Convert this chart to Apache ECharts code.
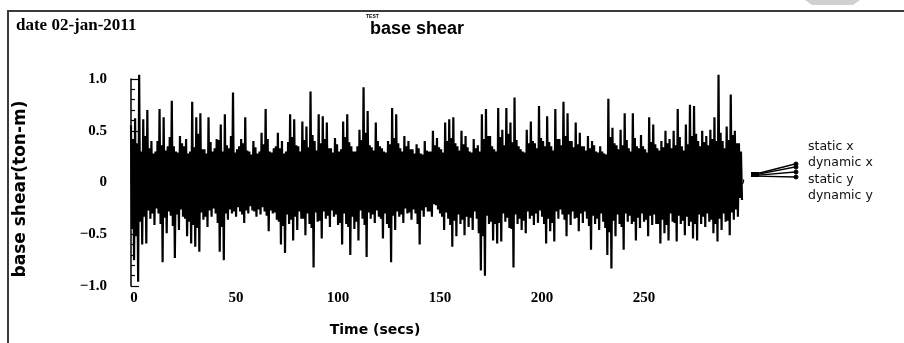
<!DOCTYPE html>
<html>
<head>
<meta charset="utf-8">
<script src="https://cdn.jsdelivr.net/npm/echarts@6/dist/echarts.min.js"></script>
<style>html,body{margin:0;padding:0;background:#fff;}#c{width:904px;height:343px;}</style>
</head>
<body>
<div id="c"></div>
<script>
// Positive peaks, at t = 0, 2, 4, ... 298 s
const upperPeaks = [
  0.55,0.62,1.04,0.61,0.70,0.40,0.30,0.71,0.63,0.35,
  0.79,0.30,0.45,0.35,0.28,0.78,0.63,0.67,0.32,0.63,
  0.30,0.42,0.56,0.66,0.33,0.87,0.32,0.42,0.63,0.30,
  0.40,0.28,0.48,0.71,0.30,0.33,0.48,0.40,0.30,0.66,
  0.61,0.35,0.59,0.54,0.88,0.40,0.66,0.64,0.58,0.33,
  0.43,0.30,0.59,0.66,0.35,0.30,0.51,0.92,0.69,0.34,
  0.58,0.35,0.30,0.40,0.72,0.66,0.33,0.45,0.40,0.32,
  0.37,0.28,0.40,0.30,0.50,0.43,0.32,0.58,0.61,0.63,
  0.35,0.50,0.45,0.30,0.42,0.36,0.66,0.71,0.45,0.32,
  0.72,0.51,0.72,0.58,0.82,0.35,0.30,0.51,0.59,0.38,
  0.74,0.40,0.64,0.35,0.71,0.42,0.78,0.67,0.40,0.58,
  0.48,0.35,0.45,0.40,0.30,0.35,0.28,0.81,0.53,0.36,
  0.51,0.67,0.33,0.67,0.35,0.46,0.32,0.63,0.56,0.33,
  0.40,0.50,0.42,0.50,0.71,0.35,0.56,0.75,0.74,0.40,
  0.50,0.45,0.51,0.63,1.04,0.40,0.54,0.85,0.50,0.38
];
// Dense oscillation inside the band, troughs at t = 0.5, 2.5, ... s
const coreLow = [
  -0.45,-0.52,-0.38,-0.33,-0.27,-0.30,-0.25,-0.40,-0.34,-0.28,
  -0.42,-0.31,-0.26,-0.35,-0.38,-0.41,-0.44,-0.29,-0.33,-0.27,
  -0.25,-0.39,-0.43,-0.30,-0.26,-0.28,-0.24,-0.31,-0.27,-0.23,
  -0.28,-0.26,-0.24,-0.32,-0.27,-0.29,-0.38,-0.42,-0.31,-0.36,
  -0.33,-0.28,-0.35,-0.30,-0.44,-0.29,-0.37,-0.28,-0.32,-0.27,
  -0.31,-0.39,-0.30,-0.43,-0.33,-0.38,-0.27,-0.41,-0.29,-0.31,
  -0.27,-0.35,-0.30,-0.44,-0.32,-0.28,-0.31,-0.25,-0.29,-0.26,
  -0.40,-0.27,-0.24,-0.28,-0.21,-0.26,-0.33,-0.29,-0.41,-0.37,
  -0.31,-0.36,-0.33,-0.34,-0.28,-0.49,-0.52,-0.32,-0.38,-0.40,
  -0.39,-0.30,-0.34,-0.45,-0.31,-0.35,-0.37,-0.28,-0.32,-0.30,
  -0.27,-0.40,-0.35,-0.39,-0.28,-0.26,-0.36,-0.31,-0.28,-0.34,
  -0.30,-0.28,-0.42,-0.32,-0.35,-0.30,-0.44,-0.48,-0.37,-0.31,
  -0.43,-0.30,-0.32,-0.38,-0.34,-0.30,-0.36,-0.32,-0.31,-0.40,
  -0.36,-0.41,-0.30,-0.39,-0.32,-0.37,-0.33,-0.38,-0.40,-0.31,
  -0.33,-0.30,-0.36,-0.40,-0.35,-0.30,-0.37,-0.29,-0.26,-0.15
];
// Dense oscillation inside the band, crests at t = 1, 3, ... s
const coreHigh = [
  0.42,0.38,0.30,0.45,0.33,0.28,0.40,0.36,0.31,0.44,
  0.35,0.29,0.38,0.42,0.30,0.34,0.47,0.32,0.28,0.39,
  0.33,0.41,0.30,0.36,0.45,0.29,0.35,0.38,0.31,0.27,
  0.34,0.30,0.37,0.42,0.29,0.35,0.33,0.28,0.39,0.44,
  0.36,0.30,0.41,0.34,0.46,0.31,0.38,0.42,0.33,0.29,
  0.37,0.32,0.44,0.39,0.30,0.35,0.41,0.48,0.36,0.31,
  0.40,0.33,0.29,0.37,0.43,0.38,0.30,0.35,0.32,0.28,
  0.33,0.27,0.31,0.30,0.36,0.34,0.29,0.40,0.43,0.38,
  0.31,0.37,0.34,0.29,0.33,0.30,0.42,0.45,0.35,0.30,
  0.44,0.36,0.47,0.39,0.41,0.32,0.29,0.38,0.40,0.33,
  0.43,0.35,0.39,0.31,0.42,0.36,0.45,0.40,0.34,0.37,
  0.35,0.31,0.33,0.36,0.29,0.30,0.27,0.44,0.38,0.32,
  0.36,0.41,0.30,0.43,0.33,0.35,0.29,0.39,0.37,0.31,
  0.34,0.38,0.33,0.36,0.44,0.31,0.37,0.45,0.47,0.35,
  0.39,0.36,0.42,0.40,0.48,0.33,0.41,0.46,0.38,0.30
];
// Negative peaks, at t = 1.5, 3.5, ... s
const lowerPeaks = [
  -0.75,-0.96,-0.60,-0.59,-0.35,-0.41,-0.30,-0.77,-0.49,-0.32,
  -0.73,-0.46,-0.33,-0.52,-0.59,-0.62,-0.67,-0.36,-0.43,-0.33,
  -0.30,-0.67,-0.75,-0.36,-0.30,-0.33,-0.28,-0.39,-0.30,-0.27,
  -0.33,-0.31,-0.28,-0.47,-0.30,-0.36,-0.60,-0.68,-0.40,-0.56,
  -0.46,-0.35,-0.51,-0.40,-0.82,-0.38,-0.54,-0.35,-0.43,-0.33,
  -0.41,-0.60,-0.40,-0.70,-0.45,-0.56,-0.35,-0.72,-0.35,-0.39,
  -0.33,-0.54,-0.40,-0.77,-0.46,-0.33,-0.39,-0.30,-0.36,-0.30,
  -0.60,-0.33,-0.28,-0.33,-0.22,-0.30,-0.46,-0.35,-0.62,-0.52,
  -0.40,-0.51,-0.43,-0.46,-0.35,-0.85,-0.90,-0.40,-0.56,-0.59,
  -0.57,-0.38,-0.44,-0.82,-0.40,-0.46,-0.49,-0.35,-0.41,-0.39,
  -0.33,-0.59,-0.47,-0.57,-0.35,-0.31,-0.52,-0.41,-0.35,-0.47,
  -0.39,-0.35,-0.65,-0.40,-0.46,-0.38,-0.70,-0.83,-0.52,-0.40,
  -0.65,-0.38,-0.40,-0.56,-0.44,-0.38,-0.52,-0.41,-0.40,-0.59,
  -0.49,-0.56,-0.38,-0.57,-0.40,-0.51,-0.42,-0.54,-0.56,-0.40,
  -0.43,-0.38,-0.49,-0.57,-0.46,-0.38,-0.51,-0.36,-0.33,-0.17
];
const legendNames = ['static x','dynamic x','static y','dynamic y'];
const yTickLabels = {'1':'1.0','0.5':'0.5','0':'0','-0.5':'\u22120.5','-1':'\u22121.0'};

const data = [];
for (let i = 0; i < upperPeaks.length; i++) {
  data.push([2 * i, upperPeaks[i]]);
  data.push([2 * i + 0.5, coreLow[i]]);
  data.push([2 * i + 1, coreHigh[i]]);
  data.push([2 * i + 1.5, lowerPeaks[i]]);
}

const chart = echarts.init(document.getElementById('c'), null, {renderer: 'canvas'});
const serifBold = {fontFamily: 'Liberation Serif', fontWeight: 'bold', fontSize: 15, color: '#000'};

const legendGraphics = [];
const markerY = [164, 167, 172, 177];
const textY = [147, 163, 180, 196];
legendNames.forEach((n, i) => {
  legendGraphics.push({type: 'text', left: 808, top: textY[i] - 7,
    style: {text: n, fontFamily: 'DejaVu Sans', fontSize: 12.5, fill: '#111'}});
  legendGraphics.push({type: 'line', shape: {x1: 795, y1: markerY[i], x2: 756, y2: 174 + i * 0.7},
    style: {stroke: '#000', lineWidth: 1.3}});
  legendGraphics.push({type: 'circle', shape: {cx: 796, cy: markerY[i], r: 2},
    style: {fill: '#000', stroke: '#000'}});
});
legendGraphics.push({type: 'rect', shape: {x: 751, y: 172, width: 8, height: 5}, style: {fill: '#000'}});

chart.setOption({
  animation: false,
  backgroundColor: '#fff',
  grid: {left: 131, top: 79, width: 612, height: 207, containLabel: false},
  xAxis: {
    type: 'value', min: 0, max: 300, interval: 50,
    axisLine: {show: true, lineStyle: {color: '#000', width: 1.5}},
    axisTick: {show: true, inside: true, length: 3, lineStyle: {color: '#000', width: 1.2}},
    minorTick: {show: true, splitNumber: 5, length: 3, lineStyle: {color: '#000', width: 1.2}},
    splitLine: {show: false},
    axisLabel: Object.assign({margin: 5, showMaxLabel: false, padding: [0, 0, 0, 6]}, serifBold)
  },
  yAxis: {
    type: 'value', min: -1, max: 1, interval: 0.5,
    axisLine: {show: true, lineStyle: {color: '#000', width: 1.5}},
    axisTick: {show: true, inside: true, length: 8, lineStyle: {color: '#000', width: 1.2}},
    minorTick: {show: true, splitNumber: 5, length: 4, lineStyle: {color: '#000', width: 1.2}},
    splitLine: {show: false},
    axisLabel: Object.assign({margin: 24, padding: [0, 0, 4, 0], formatter: v => yTickLabels[String(v)] ?? String(v)}, serifBold)
  },
  series: [{
    type: 'line', data: data, showSymbol: false, symbol: 'none', clip: false,
    lineStyle: {color: '#000', width: 2.2}, silent: true
  }],
  graphic: [
    {type: 'rect', shape: {x: 8, y: 11, width: 1000, height: 400},
      style: {fill: 'none', stroke: '#3a3a3a', lineWidth: 2}},
    {type: 'polygon', shape: {points: [[805,0],[860,0],[853,5],[812,5]]}, style: {fill: '#d0d0d0'}},
    {type: 'text', left: 16, top: 17,
      style: {text: 'date 02-jan-2011', fontFamily: 'Liberation Serif', fontWeight: 'bold', fontSize: 17, fill: '#000'}},
    {type: 'text', left: 366, top: 14,
      style: {text: 'TEST', fontFamily: 'Liberation Sans', fontWeight: 'bold', fontSize: 5, fill: '#000'}},
    {type: 'text', left: 370, top: 20,
      style: {text: 'base shear', fontFamily: 'Liberation Sans', fontWeight: 'bold', fontSize: 18, fill: '#000'}},
    {type: 'text', x: 21, y: 189, rotation: Math.PI / 2,
      style: {text: 'base shear(ton-m)', fontFamily: 'DejaVu Sans', fontWeight: 'bold', fontSize: 17, fill: '#000',
        align: 'center', verticalAlign: 'middle'}},
    {type: 'text', x: 375, y: 330,
      style: {text: 'Time (secs)', fontFamily: 'DejaVu Sans', fontWeight: 'bold', fontSize: 14, fill: '#000',
        align: 'center', verticalAlign: 'middle'}}
  ].concat(legendGraphics)
});
</script>
</body>
</html>
